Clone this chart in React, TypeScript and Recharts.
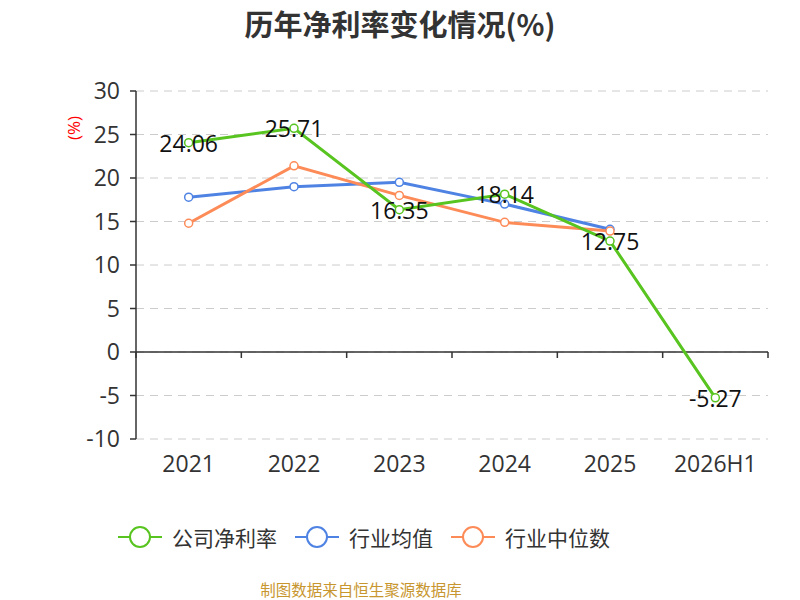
import React from 'react';
import { LineChart, Line, XAxis, YAxis, CartesianGrid, ReferenceLine, LabelList } from 'recharts';

const years = ['2021', '2022', '2023', '2024', '2025', '2026H1'];
const companyMargin = [24.06, 25.71, 16.35, 18.14, 12.75, -5.27];
const industryAvg = [17.8, 19.0, 19.5, 17.0, 14.1, null];
const industryMedian = [14.8, 21.4, 18.0, 14.9, 13.9, null];
const yTicks = [-10, -5, 0, 5, 10, 15, 20, 25, 30];

const GREEN = '#58c41f';
const BLUE = '#4f83e3';
const ORANGE = '#fd8b58';
const FONT = "'Open Sans', 'Noto Sans CJK SC', sans-serif";
const CJK = "'Noto Sans CJK SC', sans-serif";

const legendItems = [
  { name: '公司净利率', color: GREEN },
  { name: '行业均值', color: BLUE },
  { name: '行业中位数', color: ORANGE },
];

const chartData = years.map((year, i) => ({
  year,
  company: companyMargin[i],
  avg: industryAvg[i],
  median: industryMedian[i],
}));

const PLOT_LEFT = 136;
const PLOT_RIGHT = 768;

// zero line with small ticks between categories
function ZeroAxis(props: any) {
  const { y1 } = props;
  const step = (PLOT_RIGHT - PLOT_LEFT) / years.length;
  const ticks = [];
  for (let i = 0; i <= years.length; i++) {
    const x = PLOT_LEFT + step * i;
    ticks.push(<line key={i} x1={x} x2={x} y1={y1} y2={y1 + 6} stroke="#333" strokeWidth={1.5} />);
  }
  return (
    <g>
      <line x1={PLOT_LEFT} x2={PLOT_RIGHT} y1={y1} y2={y1} stroke="#333" strokeWidth={1.5} />
      {ticks}
    </g>
  );
}

function ValueLabel(props: any) {
  const { x, y, value } = props;
  if (value == null) return null;
  return (
    <text x={x} y={y} textAnchor="middle" dominantBaseline="central" fontSize={23} fill="#111" fontFamily={FONT}>
      {value.toFixed(2)}
    </text>
  );
}

const dot = (color: string) => ({ r: 4, fill: '#fff', stroke: color, strokeWidth: 1.5 });
const sidePad = (PLOT_RIGHT - PLOT_LEFT) / years.length / 2;

export default function App() {
  return (
    <div style={{ position: 'absolute', left: 0, top: 0, width: 800, height: 600, background: '#fff', fontFamily: FONT }}>
      <div style={{ position: 'absolute', top: 2, width: 800, textAlign: 'center', fontSize: 29, fontWeight: 'bold', color: '#333', fontFamily: CJK }}>
        历年净利率变化情况(%)
      </div>
      <div style={{ position: 'absolute', left: 61, top: 115, width: 26, height: 26, lineHeight: '26px', textAlign: 'center', color: 'red', fontSize: 17, transform: 'rotate(-90deg)' }}>
        (%)
      </div>
      <LineChart width={800} height={600} data={chartData} margin={{ top: 91, right: 32, bottom: 121, left: 0 }}>
        <CartesianGrid vertical={false} stroke="#ccc" strokeDasharray="8 6" />
        <XAxis
          dataKey="year"
          axisLine={false}
          tickLine={false}
          height={40}
          tickMargin={11}
          interval={0}
          padding={{ left: sidePad, right: sidePad }}
          tick={{ fontSize: 23, fill: '#333', fontFamily: FONT }}
        />
        <YAxis
          width={136}
          domain={[-10, 30]}
          ticks={yTicks}
          interval={0}
          axisLine={{ stroke: '#333', strokeWidth: 1.5 }}
          tickLine={{ stroke: '#333', strokeWidth: 1.5 }}
          tickSize={6}
          tickMargin={10}
          tick={{ fontSize: 23, fill: '#333', fontFamily: FONT }}
        />
        <ReferenceLine y={0} shape={<ZeroAxis />} />
        <Line type="linear" dataKey="avg" stroke={BLUE} strokeWidth={3} dot={dot(BLUE)} isAnimationActive={false} />
        <Line type="linear" dataKey="median" stroke={ORANGE} strokeWidth={3} dot={dot(ORANGE)} isAnimationActive={false} />
        <Line type="linear" dataKey="company" stroke={GREEN} strokeWidth={3} dot={dot(GREEN)} isAnimationActive={false}>
          <LabelList dataKey="company" content={<ValueLabel />} />
        </Line>
      </LineChart>
      <div style={{ position: 'absolute', top: 522, left: 118, display: 'flex', alignItems: 'center' }}>
        {legendItems.map((item) => (
          <div key={item.name} style={{ display: 'flex', alignItems: 'center', marginRight: 18 }}>
            <svg width={44} height={24}>
              <line x1={0} x2={44} y1={12} y2={12} stroke={item.color} strokeWidth={2} />
              <circle cx={22} cy={12} r={10} fill="#fff" stroke={item.color} strokeWidth={2} />
            </svg>
            <span style={{ fontSize: 21, color: '#333', marginLeft: 10, fontFamily: CJK }}>{item.name}</span>
          </div>
        ))}
      </div>
      <div style={{ position: 'absolute', top: 578, left: -39, width: 800, textAlign: 'center', fontSize: 15.5, color: '#c8962f', fontFamily: CJK }}>
        制图数据来自恒生聚源数据库
      </div>
    </div>
  );
}
